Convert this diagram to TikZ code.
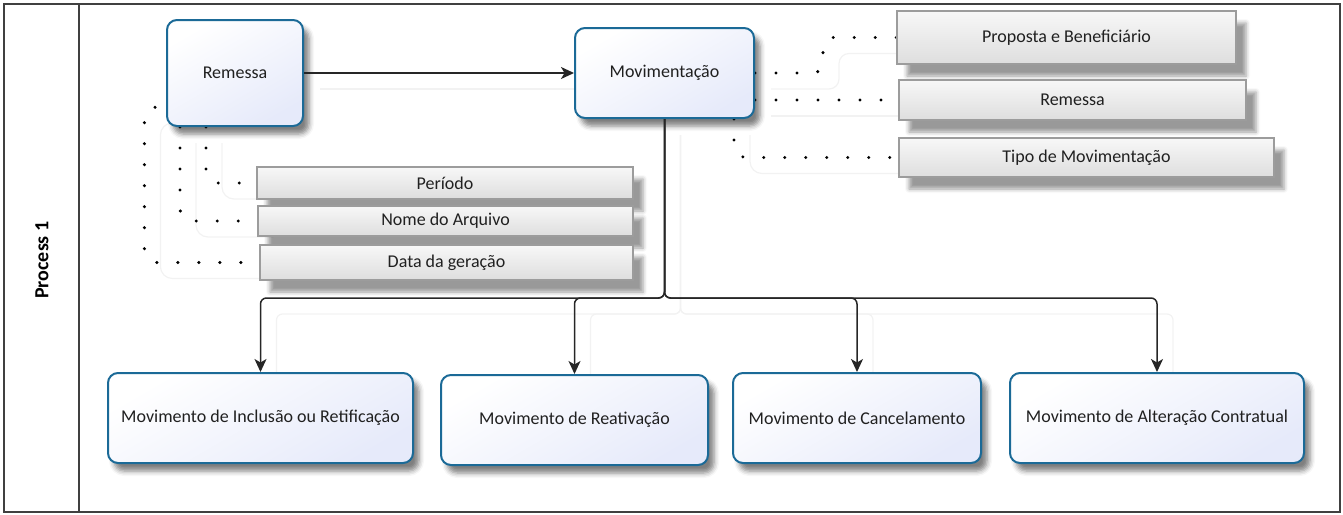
\documentclass[tikz,border=0pt]{standalone}
\usepackage{fontspec}
\setmainfont{Carlito}
\usetikzlibrary{arrows.meta,shadows.blur,backgrounds,calc}
\definecolor{boxblue}{HTML}{1B6A97}
\definecolor{boxfill}{HTML}{E6EAFA}
\definecolor{grayborder}{HTML}{9C9C9C}
\definecolor{txt}{HTML}{202020}
\begin{document}
\begin{tikzpicture}[x=1pt,y=-1pt,
  proc/.style={draw=boxblue, line width=2pt, rounded corners=10pt,
    top color=white, bottom color=boxfill, shading angle=30,
    font=\fontsize{18}{20}\selectfont, text=txt, align=center, inner sep=0pt,
    blur shadow={shadow xshift=6pt, shadow yshift=-8pt, shadow blur radius=5pt, shadow opacity=50}},
  attr/.style={draw=grayborder, line width=1.2pt,
    top color=black!3, bottom color=black!13,
    font=\fontsize{18}{20}\selectfont, text=txt, inner sep=0pt,
    blur shadow={shadow xshift=10pt, shadow yshift=-12pt, shadow blur radius=4pt, shadow opacity=40}},
  conn/.style={draw=black!85, line width=1.5pt, -{Stealth[length=13pt,width=12pt,inset=3.5pt]}},
  dots/.style={draw=black, line width=3.4pt, line cap=round, dash pattern=on 0pt off 21pt},
  ghost/.style={draw=black!5, line width=1.2pt},
  frame/.style={draw=black!75, line width=1.5pt}
]
\useasboundingbox (0,0) rectangle (1343,514);

% lane label
\node[rotate=90, font=\bfseries\fontsize{20}{22}\selectfont, text=black] (lane) at (42,260) {Process 1};

% main processes
\node[proc, minimum width=136pt, minimum height=106pt] (rem) at (235,73) {Remessa};
\node[proc, minimum width=179pt, minimum height=90pt] (mov) at (664.5,73) {Movimentação};

% attributes right
\node[attr, minimum width=339pt, minimum height=53pt] (prop) at (1066.5,37.5) {Proposta e Beneficiário};
\node[attr, minimum width=347pt, minimum height=40pt] (rem2) at (1072.5,100) {Remessa};
\node[attr, minimum width=375pt, minimum height=39pt] (tipo) at (1086.5,157.5) {Tipo de Movimentação};

% attributes left
\node[attr, minimum width=376pt, minimum height=32pt] (per) at (445,183) {Período};
\node[attr, minimum width=375pt, minimum height=30pt] (nome) at (445.5,221) {Nome do Arquivo};
\node[attr, minimum width=373pt, minimum height=35pt] (data) at (446.5,262.5) {Data da geração};

% bottom processes
\node[proc, minimum width=305pt, minimum height=90pt] (b1) at (260.5,418) {Movimento de Inclusão ou Retificação};
\node[proc, minimum width=267pt, minimum height=90pt] (b2) at (574.5,420) {Movimento de Reativação};
\node[proc, minimum width=248pt, minimum height=90pt] (b3) at (857,418) {Movimento de Cancelamento};
\node[proc, minimum width=294pt, minimum height=90pt] (b4) at (1157,418) {Movimento de Alteração Contratual};

\coordinate (j) at (664.5,298);

\begin{scope}[on background layer]
  % faint ghost lines (offset copies of the connectors)
  \begin{scope}[transform canvas={shift={(16pt,-16pt)}}]
  \draw[ghost] (rem.east) -- (mov.west);
  \draw[ghost, rounded corners=6pt] (mov.south) -- (j) -| (b1.north);
  \draw[ghost, rounded corners=6pt] (mov.south) -- (j) -| (b2.north);
  \draw[ghost, rounded corners=6pt] (mov.south) -- (j) -| (b3.north);
  \draw[ghost, rounded corners=6pt] (mov.south) -- (j) -| (b4.north);
  \draw[ghost, rounded corners=12pt] ($(rem.south west)+(0,-20)$) -| ($(data.west)+(-115,0)$) -- (data.west);
  \draw[ghost, rounded corners=12pt] ($(rem.south west)+(14,0)$) |- (nome.west);
  \draw[ghost, rounded corners=12pt] ($(rem.south west)+(40,0)$) |- (per.west);
  \draw[ghost, rounded corners=10pt] (mov.east) -- ($(mov.east)+(68,0)$) |- (prop.west);
  \draw[ghost] (mov.east |- rem2.west) -- (rem2.west);
  \draw[ghost, rounded corners=12pt] ($(mov.south east)+(-21,0)$) |- (tipo.west);
  \end{scope}

  % dotted associations
  \draw[dots, rounded corners=12pt, dash phase=10pt] ($(rem.south west)+(0,-20)$) -| ($(data.west)+(-115,0)$) -- (data.west);
  \draw[dots, rounded corners=12pt] ($(rem.south west)+(14,0)$) |- (nome.west);
  \draw[dots, rounded corners=12pt] ($(rem.south west)+(40,0)$) |- (per.west);
  \draw[dots, rounded corners=10pt] (mov.east) -- ($(mov.east)+(68,0)$) |- (prop.west);
  \draw[dots] (mov.east |- rem2.west) -- (rem2.west);
  \draw[dots, rounded corners=12pt] ($(mov.south east)+(-21,0)$) |- (tipo.west);
\end{scope}

% flows
\draw[conn] (rem.east) -- (mov.west);
\draw[conn, rounded corners=6pt] (mov.south) -- (j) -| (b1.north);
\draw[conn, rounded corners=6pt] (mov.south) -- (j) -| (b2.north);
\draw[conn, rounded corners=6pt] (mov.south) -- (j) -| (b3.north);
\draw[conn, rounded corners=6pt] (mov.south) -- (j) -| (b4.north);

% pool frame
\draw[frame] (4,4) rectangle (1340,512);
\draw[frame] (79,4) -- (79,512);
\end{tikzpicture}
\end{document}
